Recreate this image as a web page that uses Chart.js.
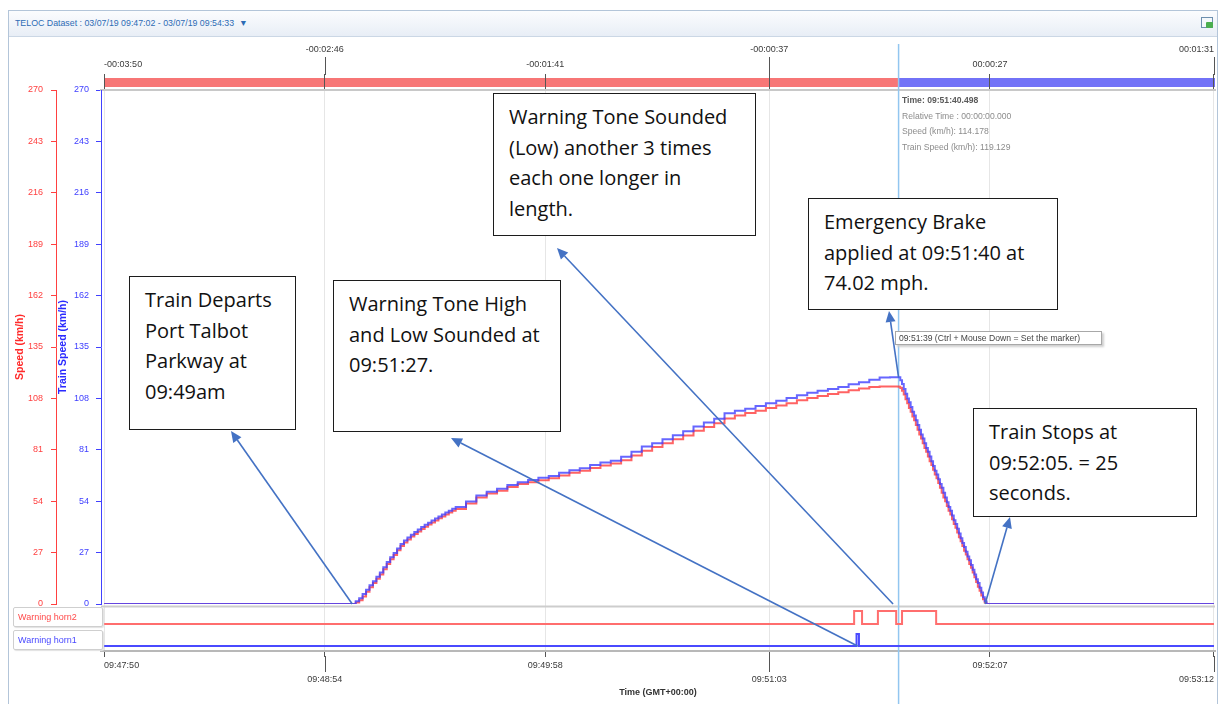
<!DOCTYPE html>
<html>
<head>
<meta charset="utf-8">
<script src="https://cdn.jsdelivr.net/npm/chart.js@4.4.1/dist/chart.umd.min.js"></script>
<style>
html,body{margin:0;padding:0;background:#fff;}
#wrap{position:relative;width:1219px;height:704px;overflow:hidden;font-family:'Liberation Sans',Arial,sans-serif;}
#frame{position:absolute;left:8px;top:10px;width:1210px;height:720px;border:1px solid #b3c5d9;box-sizing:border-box;}
#header{position:absolute;left:9px;top:11px;width:1208px;height:25px;background:linear-gradient(#fbfcfe,#e8eef6);border-bottom:1px solid #cbd7e5;}
#header .t{position:absolute;left:6px;top:7px;font-size:8.8px;color:#2d6cb5;white-space:nowrap;}
#header .ico{position:absolute;left:1192px;top:6px;width:10px;height:9px;border:1px solid #6d8fae;background:#f4f8fb;}
#header .ico2{position:absolute;left:1197px;top:11px;width:7px;height:6px;background:#4bae4f;border-radius:1px;}
canvas{position:absolute;left:0;top:0;}
.note{position:absolute;background:#fff;border:1.6px solid #1c1c1c;font-family:'Open Sans',sans-serif;font-size:20px;line-height:30.7px;color:#111;padding:8px 0 0 15px;box-sizing:border-box;white-space:nowrap;}
.hlab{position:absolute;left:13px;width:90px;height:20px;border:1px solid #cfcfcf;border-radius:2px;box-shadow:1px 1px 1px #e2e2e2;font-size:9px;line-height:19px;padding-left:4px;box-sizing:border-box;background:#fff;}
#info{position:absolute;left:902px;top:93px;font-size:8.6px;line-height:15.5px;color:#8c8c8c;white-space:nowrap;}
#info b{color:#5a5a5a;}
#hint{position:absolute;left:895px;top:331px;width:207px;height:14px;border:1px solid #a8a8a8;background:#fff;box-shadow:2px 2px 2px #cfcfcf;font-size:8.6px;line-height:13px;color:#444;padding-left:3px;box-sizing:border-box;white-space:nowrap;}
</style>
</head>
<body>
<div id="wrap">
  <div id="frame"></div>
  <div id="header"><span class="t">TELOC Dataset : 03/07/19 09:47:02 - 03/07/19 09:54:33 &nbsp;▼</span><div class="ico"></div><div class="ico2"></div></div>
  <canvas id="c" width="1219" height="704"></canvas>
  <div class="hlab" style="top:607px;color:#ff4a4a;">Warning horn2</div>
  <div class="hlab" style="top:630px;color:#4a4aff;">Warning horn1</div>
  <div id="info">
    <div><b>Time: 09:51:40.498</b></div>
    <div>Relative Time : 00:00:00.000</div>
    <div>Speed (km/h): 114.178</div>
    <div>Train Speed (km/h): 119.129</div>
  </div>
  <div id="hint">09:51:39 (Ctrl + Mouse Down = Set the marker)</div>
  <div id="notes"></div>
</div>
<script>
// ---------- data (seconds after 09:47:50) ----------
const sampleTimes = [0,
72,73,74,75,76,77,78,79,80,81,82,83,84,85,86,87,88,89,90,91,92,93,94,95,96,97,98,99,100,101,102,
105,108,111,114,117,120,123,126,129,132,135,138,141,144,147,150,153,156,159,162,165,168,171,174,177,180,183,186,189,192,195,198,201,204,207,210,213,216,219,222,225,228,
230.5,
231,231.5,232,232.5,233,233.5,234,234.5,235,235.5,236,236.5,237,237.5,238,238.5,239,239.5,240,240.5,241,241.5,242,242.5,243,243.5,244,244.5,245,245.5,246,246.5,247,247.5,248,248.5,249,249.5,250,250.5,251,251.5,252,252.5,253,253.5,254,254.5,255,255.5,256,
322];
const trainSpeedKmh = [0,
0,1.5,3,5.3,7.5,9.8,12,14.3,16.5,19.3,22,24.5,26.8,29.2,31.5,33.3,34.9,36.4,37.8,39.1,40.4,41.6,42.7,43.8,44.9,46,47,48,49,50,50.9,
53.8,57,59,60.5,62.5,64,65.2,66.3,67.3,69,70.3,71.3,73,74.3,75.3,77.3,80,82.7,84.5,86.6,88.7,90.8,93.2,95.4,97.3,100.2,101.5,102.6,104,105.5,106.8,108.2,109.7,111,112,113,114,115.4,116.5,117.8,119,119.1,
119.129,
117.5,115.5,113,110.5,108,106,103.5,101,99,96.5,94,91.5,89,87,84.5,82,80,77.5,75,72.5,70,68,65.5,63,61,58.5,56,53.5,51,49,46.5,44,42,39.5,37,34.5,32,30,27.5,25,23,20.5,18,15.5,13,11,8.5,6,3.5,1.5,0,
0];
const speedKmh = [0,
0,0.8,2,4,6.5,8.8,11,13.3,15.5,18.3,21,23.5,25.8,28.2,30.5,32.3,33.9,35.4,36.8,38.1,39.4,40.6,41.7,42.8,43.9,45,46,47,48,49,49.9,
52.8,56,58,59.5,61.5,63,64,65,66,67.5,69,70,71.5,72.8,73.8,75.5,78,80.5,82.5,84.5,86.5,88.5,91,93,95,97.5,99,100.3,101.5,103,104.3,105.5,107,108.2,109.3,110.3,111.2,112.3,113.2,114,114.2,114.2,
114.178,
113.5,112,110,107.5,105.5,103,101,98.5,96.5,94,91.5,89,87,84.5,82,80,77.5,75,73,70.5,68,66,63.5,61,58.5,56,54,51.5,49,47,44.5,42,40,37.5,35,33,30.5,28,26,23.5,21,19,16.5,14,11.5,9,7,4.5,2.5,0.8,0,
0];
const horn2Times = [0,217.6,219.9,224.5,229.8,231.5,241.4,322];
const horn2State = [0,1,0,1,0,1,0,0];
const horn1Times = [0,218.3,219.0,322];
const horn1State = [0,1,0,0];
const xTickValues = [0,64,128,193,257,322];
const timeLabels = ['09:47:50','09:48:54','09:49:58','09:51:03','09:52:07','09:53:12'];
const relativeLabels = ['-00:03:50','-00:02:46','-00:01:41','-00:00:37','00:00:27','00:01:31'];
const markerTime = 230.5;
const noteTexts = [
  ['Train Departs','Port Talbot','Parkway at','09:49am'],
  ['Warning Tone High','and Low Sounded at','09:51:27.'],
  ['Warning Tone Sounded','(Low) another 3 times','each one longer in','length.'],
  ['Emergency Brake','applied at 09:51:40 at','74.02 mph.'],
  ['Train Stops at','09:52:05. = 25','seconds.']
];
// arrow tails anchored to data: [time, axis, value]
const noteAnchors = [[72,'ySpeed',0],[218.6,'yH1',0],[228.9,'ySpeed',0],[230.5,'ySpeed',119.1],[255.6,'ySpeed',0]];

// ---------- layout (pixels) ----------
const noteBoxes = [
  {l:129,t:276,w:167,h:154,hx:231,hy:431},
  {l:333,t:280,w:228,h:152,hx:451,hy:438},
  {l:493,t:93,w:263,h:143,hx:557,hy:248},
  {l:808,t:198,w:250,h:112,hx:889,hy:311},
  {l:973,t:408,w:224,h:109,hx:1010,hy:517}
];
const notesDiv = document.getElementById('notes');
noteTexts.forEach((lines,i)=>{
  const b = noteBoxes[i];
  const d = document.createElement('div');
  d.className='note';
  d.style.left=b.l+'px'; d.style.top=b.t+'px'; d.style.width=b.w+'px'; d.style.height=b.h+'px';
  d.innerHTML = lines.map(s=>'<div>'+s+'</div>').join('');
  notesDiv.appendChild(d);
});

const RED = '#ff4040', BLUE = '#4040ff';
const FONT = "'Liberation Sans', Arial, sans-serif";

function drawArrow(ctx,x1,y1,x2,y2){
  const a=Math.atan2(y2-y1,x2-x1), L=11, W=5;
  const bx=x2-L*Math.cos(a), by=y2-L*Math.sin(a);
  ctx.beginPath(); ctx.moveTo(x1,y1); ctx.lineTo(bx,by); ctx.stroke();
  ctx.beginPath(); ctx.moveTo(x2,y2);
  ctx.lineTo(bx+W*Math.sin(a),by-W*Math.cos(a));
  ctx.lineTo(bx-W*Math.sin(a),by+W*Math.cos(a));
  ctx.closePath(); ctx.fill();
}

const decor = {
  id:'decor',
  beforeDraw(chart){
    const ctx=chart.ctx, xs=chart.scales.xTop, ca=chart.chartArea;
    const x0=xs.getPixelForValue(0), xm=xs.getPixelForValue(markerTime);
    const top=xs.bottom-12;
    ctx.save();
    ctx.fillStyle='#f77676'; ctx.fillRect(x0,top,xm-x0,9);
    ctx.fillStyle='#7272f7'; ctx.fillRect(xm,top,ca.right-xm,9);
    ctx.restore();
  },
  beforeDatasetsDraw(chart){
    const ctx=chart.ctx, ca=chart.chartArea, ys=chart.scales.ySpeed;
    ctx.save();
    ctx.strokeStyle='#cdcdcd'; ctx.lineWidth=2;
    ctx.beginPath(); ctx.moveTo(ca.left,ys.bottom+2.5); ctx.lineTo(ca.right,ys.bottom+2.5); ctx.stroke();
    const xm=chart.scales.x.getPixelForValue(markerTime);
    ctx.strokeStyle='#92c6f0'; ctx.lineWidth=1.5;
    ctx.beginPath(); ctx.moveTo(xm,44); ctx.lineTo(xm,704); ctx.stroke();
    ctx.restore();
  },
  afterDraw(chart){
    const ctx=chart.ctx, xb=chart.scales.x, xt=chart.scales.xTop;
    ctx.save();
    ctx.strokeStyle='#555'; ctx.lineWidth=1;
    xt.ticks.forEach((t,i)=>{ if(i%2){ const p=Math.round(xt.getPixelForTick(i))+0.5; ctx.beginPath(); ctx.moveTo(p,57); ctx.lineTo(p,xt.bottom-15); ctx.stroke(); }});
    xb.ticks.forEach((t,i)=>{ if(i%2){ const p=Math.round(xb.getPixelForTick(i))+0.5; ctx.beginPath(); ctx.moveTo(p,xb.top+5); ctx.lineTo(p,xb.top+21); ctx.stroke(); }});
    ctx.strokeStyle='#4472c4'; ctx.fillStyle='#4472c4'; ctx.lineWidth=1.6;
    noteAnchors.forEach((a,i)=>{
      const yAxis = a[1]==='yH1' ? chart.scales.yH1r : chart.scales[a[1]];
      const x1=xb.getPixelForValue(a[0]), y1=yAxis.getPixelForValue(a[2]);
      drawArrow(ctx,x1,y1,noteBoxes[i].hx,noteBoxes[i].hy);
    });
    ctx.restore();
  }
};

const toXY = (ts,vs)=>ts.map((t,i)=>({x:t,y:vs[i]}));
const hidden = (stack,w,min,max,weight)=>({type:'linear',position:'left',display:false,stack:stack,stackWeight:w,weight:weight,min:min,max:max});

new Chart(document.getElementById('c'),{
  type:'line',
  data:{datasets:[
    {label:'Train Speed (km/h)',data:toXY(sampleTimes,trainSpeedKmh),xAxisID:'x',yAxisID:'yTrain',borderColor:'rgba(64,64,255,0.8)',borderWidth:2,stepped:true,pointRadius:0,fill:false},
    {label:'Speed (km/h)',data:toXY(sampleTimes,speedKmh),xAxisID:'x',yAxisID:'ySpeed',borderColor:'rgba(255,60,60,0.8)',borderWidth:2,stepped:true,pointRadius:0,fill:false},
    {label:'Warning horn2',data:toXY(horn2Times,horn2State),xAxisID:'x',yAxisID:'yH2r',borderColor:'#ff6e6e',borderWidth:2,stepped:true,pointRadius:0,fill:false},
    {label:'Warning horn1',data:toXY(horn1Times,horn1State),xAxisID:'x',yAxisID:'yH1r',borderColor:'#4a4aff',borderWidth:2,stepped:true,pointRadius:0,fill:false}
  ]},
  options:{
    responsive:false, animation:false, events:[],
    font:{family:FONT,size:9},
    layout:{padding:{top:36,left:14,right:4,bottom:0}},
    plugins:{legend:{display:false},tooltip:{enabled:false}},
    scales:{
      x:{type:'linear',position:'bottom',min:-0.9,max:322.3,
        afterBuildTicks:s=>{s.ticks=xTickValues.map(v=>({value:v}));},
        afterFit:s=>{s.height=53;},
        ticks:{autoSkip:false,maxRotation:0,minRotation:0,align:'inner',padding:2,color:'#3a3a3a',font:{family:FONT,size:9,lineHeight:1.556},
          callback:(v,i)=> i%2 ? ['',timeLabels[i]] : timeLabels[i]},
        grid:{color:'#e6e6e6',drawOnChartArea:true,tickLength:6,tickColor:'#555'},
        border:{color:'#b8b8b8',width:2},
        title:{display:true,text:'Time (GMT+00:00)',color:'#333',font:{family:FONT,size:9,weight:'bold'},padding:{top:0,bottom:6}}
      },
      xTop:{type:'linear',position:'top',min:-0.9,max:322.3,
        afterBuildTicks:s=>{s.ticks=xTickValues.map(v=>({value:v}));},
        afterFit:s=>{s.height=54;},
        ticks:{autoSkip:false,maxRotation:0,minRotation:0,align:'inner',padding:1.5,color:'#3a3a3a',font:{family:FONT,size:9,lineHeight:1.667},
          callback:(v,i)=> i%2 ? [relativeLabels[i],''] : relativeLabels[i]},
        grid:{drawOnChartArea:false,tickLength:16,tickColor:'#555'},
        border:{color:'#c8c8c8',width:2}
      },
      ySpeed:{type:'linear',position:'left',stack:'red',stackWeight:514,weight:2.3,min:0,max:270,
        afterFit:s=>{s.width=42;},
        ticks:{stepSize:27,color:RED,padding:8,font:{family:FONT,size:9}},
        grid:{drawOnChartArea:false,tickLength:5,tickColor:RED},
        border:{color:RED,width:1},
        title:{display:true,text:'Speed (km/h)',color:'#ff2a2a',font:{family:FONT,size:10.5,weight:'bold'},padding:{top:0,bottom:0}}
      },
      yH2r:hidden('red',24,-0.31,1.54,2.2),
      yH1r:hidden('red',23,-0.42,1.5,2.1),
      yTrain:{type:'linear',position:'left',stack:'blue',stackWeight:514,weight:1.3,min:0,max:270,
        afterFit:s=>{s.width=45;},
        ticks:{stepSize:27,color:BLUE,padding:7,font:{family:FONT,size:9}},
        grid:{drawOnChartArea:false,tickLength:5,tickColor:BLUE},
        border:{color:BLUE,width:1},
        title:{display:true,text:'Train Speed (km/h)',color:'#2a2aff',font:{family:FONT,size:10.5,weight:'bold'},padding:{top:0.5,bottom:0}}
      },
      yH2b:hidden('blue',24,-0.31,1.54,1.2),
      yH1b:hidden('blue',23,-0.42,1.5,1.1)
    }
  },
  plugins:[decor]
});
</script>
</body>
</html>
